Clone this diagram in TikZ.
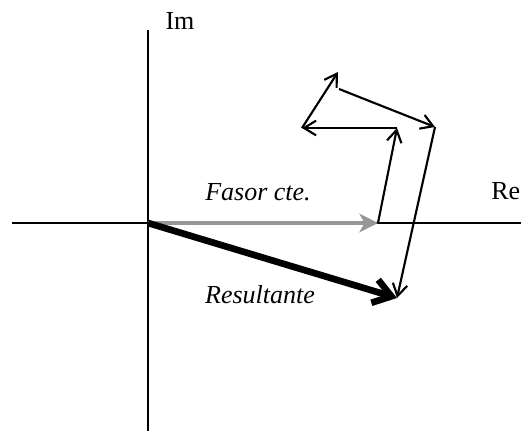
\documentclass[tikz,border=0pt]{standalone}
\usepackage{fontspec}
\setmainfont{Liberation Serif}
\usetikzlibrary{arrows.meta}
\definecolor{fasorgray}{RGB}{150,150,150}
\tikzset{
  axisline/.style={line width=1.1pt, black},
  phasor/.style={line width=1.6pt, black, -{Straight Barb[length=9pt,width=11pt]}},
  constphasor/.style={line width=3.6pt, fasorgray, -{Stealth[length=14pt,width=14pt,inset=4pt]}},
  resultphasor/.style={line width=5pt, black, -{Straight Barb[length=13pt,width=18pt]}},
  lbl/.style={font=\fontsize{19.5}{23}\selectfont, inner sep=0pt, anchor=base},
  ilbl/.style={lbl, font=\fontsize{19.5}{23}\selectfont\itshape}
}
\begin{document}
\begin{tikzpicture}[x=0.75pt,y=-0.75pt]
\useasboundingbox (0,0) rectangle (521,432);
% axes
\coordinate (xl) at (12,223);
\coordinate (xr) at (521,223);
\coordinate (yt) at (148,30);
\coordinate (yb) at (148,431);
\draw[axisline] (xl) -- (xr);
\draw[axisline] (yt) -- (yb);
% points
\coordinate (O) at (148,223);
\coordinate (A) at (378,223);
\coordinate (B) at (397,128);
\coordinate (C) at (302,128);
\coordinate (D) at (338,72);
\coordinate (D2) at (339,89);
\coordinate (E) at (435,127);
\coordinate (F) at (397,298);
% phasors
\draw[constphasor] (O) -- (A);
\draw[phasor] (A) -- (B);
\draw[phasor] (B) -- (C);
\draw[phasor] (C) -- (D);
\draw[phasor] (D2) -- (E);
\draw[phasor] (E) -- (F);
\draw[resultphasor] (O) -- (F);
% labels
\node[lbl] (im) at (180,29) {Im};
\node[lbl, anchor=base west] (re) at (491,199) {Re};
\node[ilbl] (fasor) at (258,200) {Fasor cte.};
\node[ilbl] (res) at (260,303) {Resultante};
\end{tikzpicture}
\end{document}
